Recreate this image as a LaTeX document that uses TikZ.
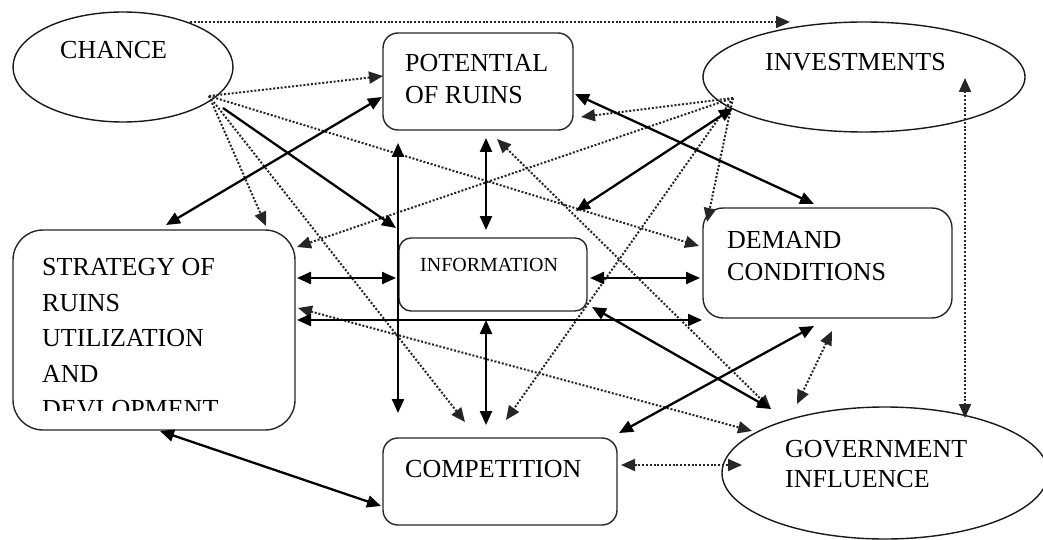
\documentclass[tikz,border=0pt]{standalone}
\usepackage{fontspec}
\setmainfont{Liberation Serif}
\usetikzlibrary{arrows.meta,shapes.geometric}
\begin{document}
\begin{tikzpicture}[x=1pt,y=-1pt,
  box/.style={draw=black!85,line width=1.4pt,rounded corners=#1,inner sep=0pt},
  ell/.style={draw=black!90,line width=1.4pt,ellipse,inner sep=0pt},
  lbl/.style={font=\fontsize{26}{30}\selectfont,inner sep=0pt,anchor=base west,text=black},
  slbl/.style={font=\fontsize{20}{24}\selectfont,inner sep=0pt,anchor=base west,text=black},
  sol/.style={line width=2.3pt,draw=black},
  dot/.style={line width=2pt,dash pattern=on 2pt off 1.8pt,draw=black!85},
  tip/.style={-{Triangle[length=14pt,width=12pt]}},
  both/.style={{Triangle[length=14pt,width=12pt]}-{Triangle[length=14pt,width=12pt]}},
]
\useasboundingbox (0,0) rectangle (1043,540);

% shapes
\node[ell,minimum width=220pt,minimum height=110pt] (chance) at (123,67) {};
\node[ell,minimum width=322pt,minimum height=110pt] (inv) at (864,77) {};
\node[ell,minimum width=326pt,minimum height=132pt] (gov) at (885,473) {};
\node[box=15pt,minimum width=190pt,minimum height=97pt] (pot) at (478,81.5) {};
\node[box=30pt,minimum width=282pt,minimum height=200pt] (strat) at (154,330) {};
\node[box=12pt,minimum width=188pt,minimum height=73pt] (info) at (493,274.5) {};
\node[box=20pt,minimum width=249pt,minimum height=110pt] (dem) at (827.5,263) {};
\node[box=15pt,minimum width=234pt,minimum height=87pt] (comp) at (500,481.5) {};

% labels
\node[lbl] (tChance) at (60,59) {CHANCE};
\node[lbl] (tPot1) at (405,72) {POTENTIAL};
\node[lbl] (tPot2) at (405,104) {OF RUINS};
\node[lbl] (tInv) at (765,71) {INVESTMENTS};
\node[lbl] (tS1) at (42,275) {STRATEGY OF};
\node[lbl] (tS2) at (42,311) {RUINS};
\node[lbl] (tS3) at (42,346) {UTILIZATION};
\node[lbl] (tS4) at (42,382) {AND};
\begin{scope}
\clip (20,390) rectangle (290,410);
\node[lbl] (tS5) at (42,417) {DEVLOPMENT};
\end{scope}
\node[slbl] (tInfo) at (420,271) {INFORMATION};
\node[lbl] (tDem1) at (727,248) {DEMAND};
\node[lbl] (tDem2) at (727,280) {CONDITIONS};
\node[lbl] (tComp) at (405,477) {COMPETITION};
\node[lbl] (tGov1) at (785,457) {GOVERNMENT};
\node[lbl] (tGov2) at (785,487) {INFLUENCE};

% connector end points
\coordinate (chTop) at (190,22);
\coordinate (invAbove) at (790,22);
\coordinate (chO) at (209,96);
\coordinate (chS) at (223,108);
\coordinate (invO) at (733,98);
\coordinate (invS) at (733,108);
\coordinate (invR) at (965,78);
\coordinate (potL1) at (383,76);
\coordinate (potL2) at (382,97);
\coordinate (potR1) at (575,94);
\coordinate (potR2) at (581,117);
\coordinate (potB1) at (398,143);
\coordinate (potB2) at (486,138);
\coordinate (potB3) at (497,139);
\coordinate (stT1) at (166,225);
\coordinate (stT2) at (266,226);
\coordinate (stR1) at (297,247);
\coordinate (stR2) at (297,278);
\coordinate (stR3) at (298,308);
\coordinate (stR4) at (297,320);
\coordinate (stB) at (160,431);
\coordinate (infTL) at (396,228);
\coordinate (infL) at (396,278);
\coordinate (infT) at (486,230);
\coordinate (infTR) at (576,211);
\coordinate (infR) at (590,278);
\coordinate (infBR) at (592,307);
\coordinate (infB) at (486,320);
\coordinate (demL1) at (699,246);
\coordinate (demL2) at (700,278);
\coordinate (demL3) at (702,320);
\coordinate (demT1) at (707,222);
\coordinate (demT2) at (814,204);
\coordinate (demB1) at (814,326);
\coordinate (demB2) at (832,331);
\coordinate (coT1) at (398,413);
\coordinate (coT2) at (465,422);
\coordinate (coT3) at (486,425);
\coordinate (coT4) at (506,420);
\coordinate (coTR) at (619,433);
\coordinate (coR) at (621,465);
\coordinate (coL) at (381,506);
\coordinate (goL) at (742,465);
\coordinate (goT1) at (752,431);
\coordinate (goT2) at (771,409);
\coordinate (goT3) at (797,404);
\coordinate (goT4) at (965,418);

% dotted connectors
\draw[dot,tip] (chTop) -- (invAbove);
\draw[dot,tip] (chO) -- (potL1);
\draw[dot,tip] (chO) -- (stT2);
\draw[dot,tip] (chO) -- (coT2);
\draw[dot,tip] (chO) -- (demL1);
\draw[dot,tip] (invO) -- (potR2);
\draw[dot,tip] (invO) -- (stR1);
\draw[dot,tip] (invO) -- (demT1);
\draw[dot,tip] (invO) -- (coT4);
\draw[dot,both] (potB3) -- (goT2);
\draw[dot,both] (stR3) -- (goT1);
\draw[dot,both] (demB2) -- (goT3);
\draw[dot,both] (coR) -- (goL);
\draw[dot,both] (invR) -- (goT4);

% solid connectors
\draw[sol,both] (stT1) -- (potL2);
\draw[sol,tip] (chS) -- (infTL);
\draw[sol,both] (potB1) -- (coT1);
\draw[sol,both] (potB2) -- (infT);
\draw[sol,both] (infB) -- (coT3);
\draw[sol,both] (stR2) -- (infL);
\draw[sol,both] (infR) -- (demL2);
\draw[sol,both] (stR4) -- (demL3);
\draw[sol,both] (infBR) -- (goT2);
\draw[sol,both] (invS) -- (infTR);
\draw[sol,both] (potR1) -- (demT2);
\draw[sol,both] (coTR) -- (demB1);
\draw[sol,both] (stB) -- (coL);
\end{tikzpicture}
\end{document}
